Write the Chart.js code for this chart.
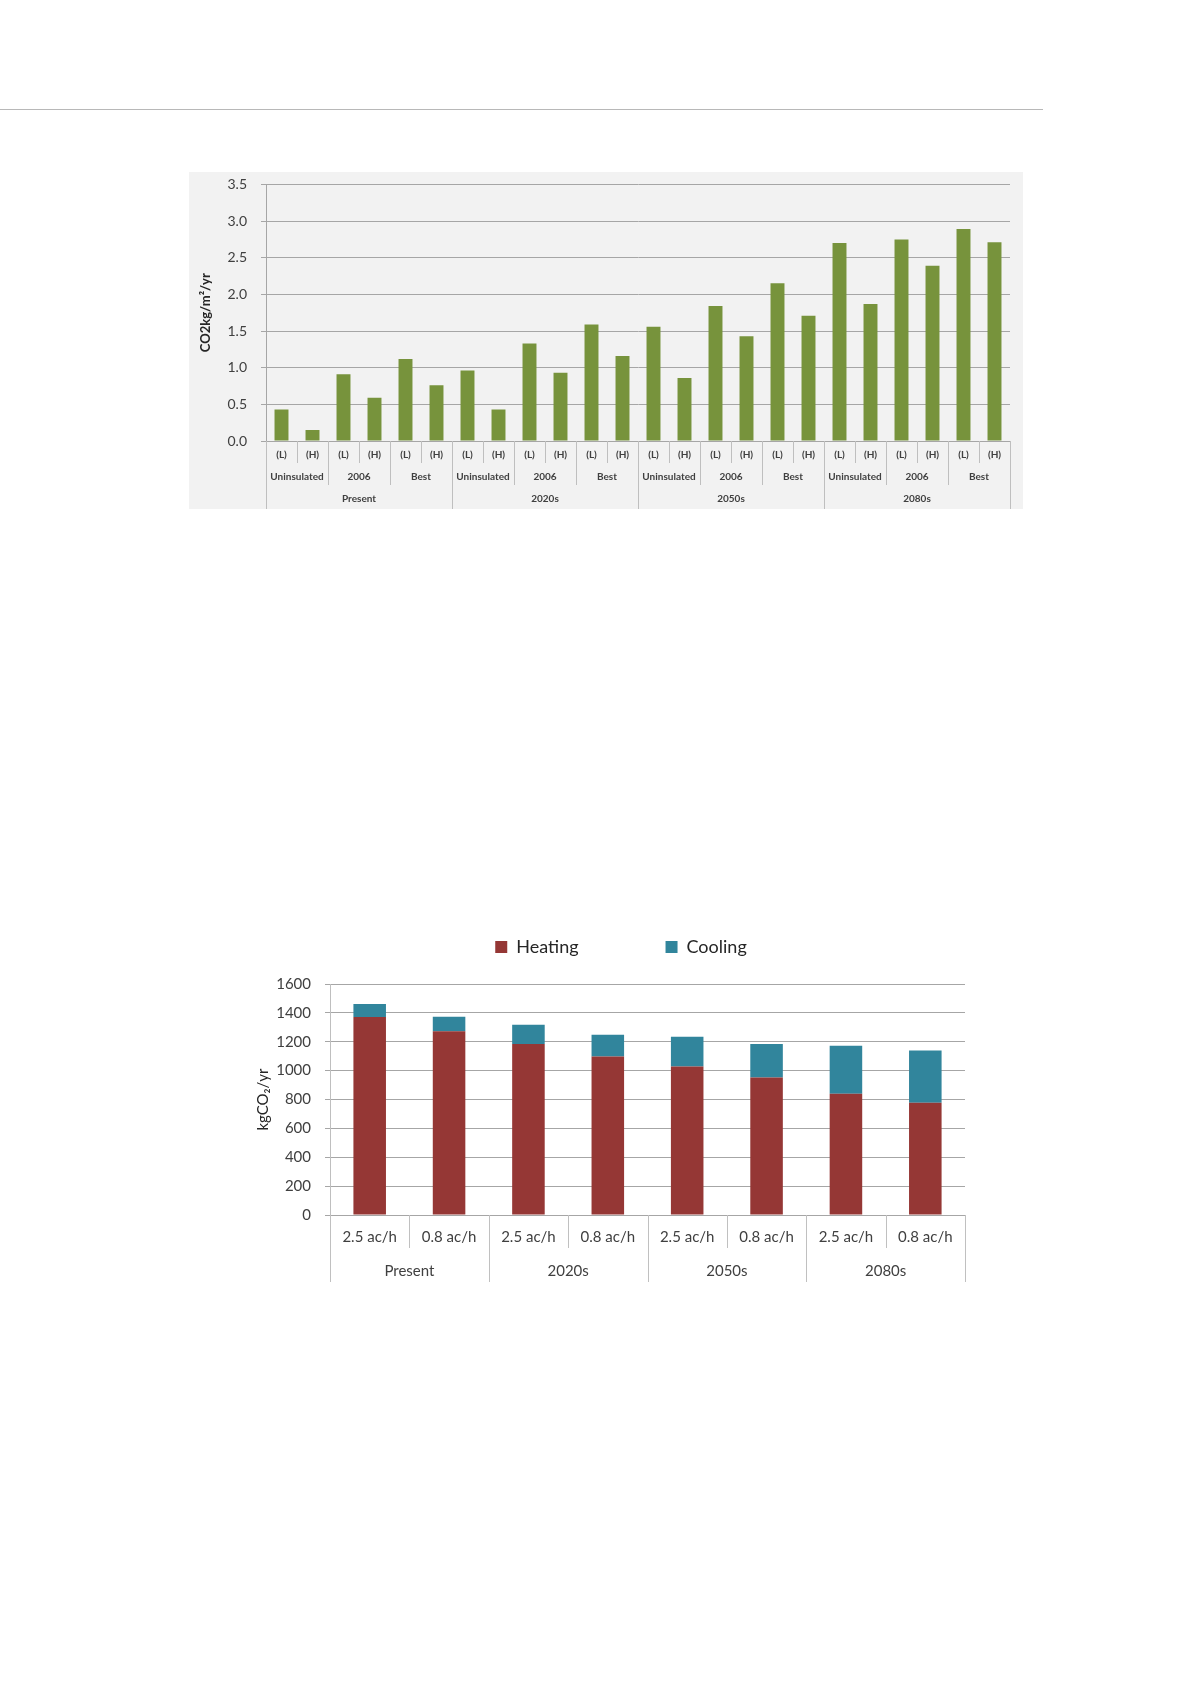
<!DOCTYPE html>
<html lang="en">
<head>
  <meta charset="UTF-8" />
  <title>CO2 emissions by insulation and ventilation</title>
  <style>
    body { margin: 0; background: #fff; font-family: Lato, sans-serif; }
    .rule { position: absolute; left: 0; top: 109px; width: 1043px; height: 1px; background: #b8b8b8; }
    #box1 { position: absolute; left: 189px; top: 172px; width: 834px; height: 337px; background: #f2f2f2; }
    #box1 canvas { position: absolute; left: 0; top: -10px; }
    #box2 { position: absolute; left: 230px; top: 851px; width: 782px; height: 431px; }
  </style>
</head>
<body>
  <div class="rule"></div>
  <div id="box1"><canvas id="insulationChart" width="834" height="347"></canvas></div>
  <div id="box2"><canvas id="ventChart" width="782" height="431"></canvas></div>

  <script src="https://cdn.jsdelivr.net/npm/chart.js"></script>
  <script>
    // chart 1: CO2 per m2, by period / insulation level / (L)ow-(H)igh
    const caseLabels = ['(L)', '(H)', '(L)', '(H)', '(L)', '(H)', '(L)', '(H)', '(L)', '(H)', '(L)', '(H)',
                        '(L)', '(H)', '(L)', '(H)', '(L)', '(H)', '(L)', '(H)', '(L)', '(H)', '(L)', '(H)'];
    const insulationLabels = ['Uninsulated', '2006', 'Best', 'Uninsulated', '2006', 'Best',
                              'Uninsulated', '2006', 'Best', 'Uninsulated', '2006', 'Best'];
    const periodLabels = ['Present', '2020s', '2050s', '2080s'];
    const emissions = [0.43, 0.15, 0.91, 0.59, 1.12, 0.76,
                       0.96, 0.43, 1.33, 0.93, 1.59, 1.16,
                       1.56, 0.86, 1.84, 1.43, 2.15, 1.71,
                       2.70, 1.87, 2.75, 2.39, 2.89, 2.71];

    // chart 2: kgCO2/yr, heating + cooling, by period and ventilation rate
    const ventLabels = ['2.5 ac/h', '0.8 ac/h', '2.5 ac/h', '0.8 ac/h', '2.5 ac/h', '0.8 ac/h', '2.5 ac/h', '0.8 ac/h'];
    const ventPeriods = ['Present', '2020s', '2050s', '2080s'];
    const heating = [1371, 1272, 1184, 1098, 1029, 953, 839, 777];
    const cooling = [90, 101, 134, 151, 206, 231, 333, 363];

    const textColor = '#404040';
    Chart.defaults.font.family = 'Lato, sans-serif';
    Chart.defaults.color = textColor;

    // vertical separators of the multi-level category axis
    const groupLines = {
      id: 'groupLines',
      afterDraw(chart, args, opts) {
        const x = chart.scales.x;
        const n = x.getLabels().length;
        const ctx = chart.ctx;
        ctx.save();
        ctx.strokeStyle = opts.color;
        ctx.lineWidth = 1;
        for (let i = 0; i <= n; i++) {
          let bottom = x.bottom;
          opts.levels.forEach(lv => { if (i % lv.size === 0) bottom = chart.scales[lv.axis].bottom; });
          const px = Math.round(x.getPixelForValue(i - 0.5)) + 0.5;
          ctx.beginPath();
          ctx.moveTo(px, x.top);
          ctx.lineTo(px, bottom);
          ctx.stroke();
        }
        ctx.restore();
      }
    };

    function rowAxis(labels, size, weight, padding, height) {
      return {
        type: 'category',
        labels: labels,
        offset: true,
        grid: { display: false, drawTicks: false },
        border: { display: false },
        ticks: { autoSkip: false, maxRotation: 0, padding: padding, color: textColor, font: { size: size, weight: weight } },
        afterFit: s => { s.height = height; }
      };
    }

    new Chart(document.getElementById('insulationChart'), {
      type: 'bar',
      data: {
        labels: caseLabels,
        datasets: [{ data: emissions, backgroundColor: '#77933c', barPercentage: 0.45, categoryPercentage: 1 }]
      },
      options: {
        responsive: false,
        animation: false,
        layout: { padding: { top: 4, right: 13 } },
        plugins: {
          legend: { display: false },
          tooltip: { enabled: false },
          groupLines: {
            color: '#bfbfbf',
            levels: [
              { size: caseLabels.length / insulationLabels.length, axis: 'x2' },
              { size: caseLabels.length / periodLabels.length, axis: 'x3' }
            ]
          }
        },
        scales: {
          x: rowAxis(caseLabels, 10, 'bold', 8, 22),
          x2: rowAxis(insulationLabels, 10, 'bold', 8, 22),
          x3: rowAxis(periodLabels, 10, 'bold', 8, 24),
          y: {
            min: 0,
            max: 3.5,
            ticks: { stepSize: 0.5, padding: 14, color: textColor, font: { size: 14 }, callback: v => v.toFixed(1) },
            grid: { color: '#a6a6a6', tickLength: 5 },
            border: { color: '#a6a6a6' },
            title: { display: true, text: 'CO2kg/m²/yr', color: '#262626', font: { size: 13, weight: 'bold' }, padding: { top: 9, bottom: 0 } },
            afterFit: s => { s.width = 77; }
          }
        }
      },
      plugins: [groupLines]
    });

    new Chart(document.getElementById('ventChart'), {
      type: 'bar',
      data: {
        labels: ventLabels,
        datasets: [
          { label: 'Heating', data: heating, backgroundColor: '#953735', barPercentage: 0.41, categoryPercentage: 1 },
          { label: 'Cooling', data: cooling, backgroundColor: '#31859c', barPercentage: 0.41, categoryPercentage: 1 }
        ]
      },
      options: {
        responsive: false,
        animation: false,
        layout: { padding: 0 },
        plugins: {
          legend: {
            position: 'top',
            labels: { boxWidth: 12, boxHeight: 12, padding: 87, color: '#262626', font: { size: 18 } }
          },
          // spacer between legend and plot
          title: { display: true, text: '', font: { size: 10 }, padding: { top: 3, bottom: 3 }, weight: 500 },
          tooltip: { enabled: false },
          groupLines: {
            color: '#c0c0c0',
            levels: [{ size: ventLabels.length / ventPeriods.length, axis: 'x2' }]
          }
        },
        scales: {
          x: Object.assign(rowAxis(ventLabels, 15, 'normal', 13, 33), { stacked: true }),
          x2: rowAxis(ventPeriods, 15, 'normal', 14, 34),
          y: {
            stacked: true,
            min: 0,
            max: 1600,
            ticks: { stepSize: 200, padding: 14, color: textColor, font: { size: 15 }, callback: v => String(v) },
            grid: { color: '#a6a6a6', tickLength: 5 },
            border: { color: '#bfbfbf' },
            title: { display: true, text: 'kgCO₂/yr', color: '#262626', font: { size: 15 }, padding: { top: 24, bottom: 0 } },
            afterFit: s => { s.width = 100; }
          },
          // empty right-hand box so the legend centres where the original does
          yPad: {
            type: 'linear',
            position: 'right',
            grid: { display: false, drawTicks: false },
            border: { display: false },
            ticks: { display: false },
            afterFit: s => { s.width = 47; }
          }
        }
      },
      plugins: [groupLines]
    });
  </script>
</body>
</html>
